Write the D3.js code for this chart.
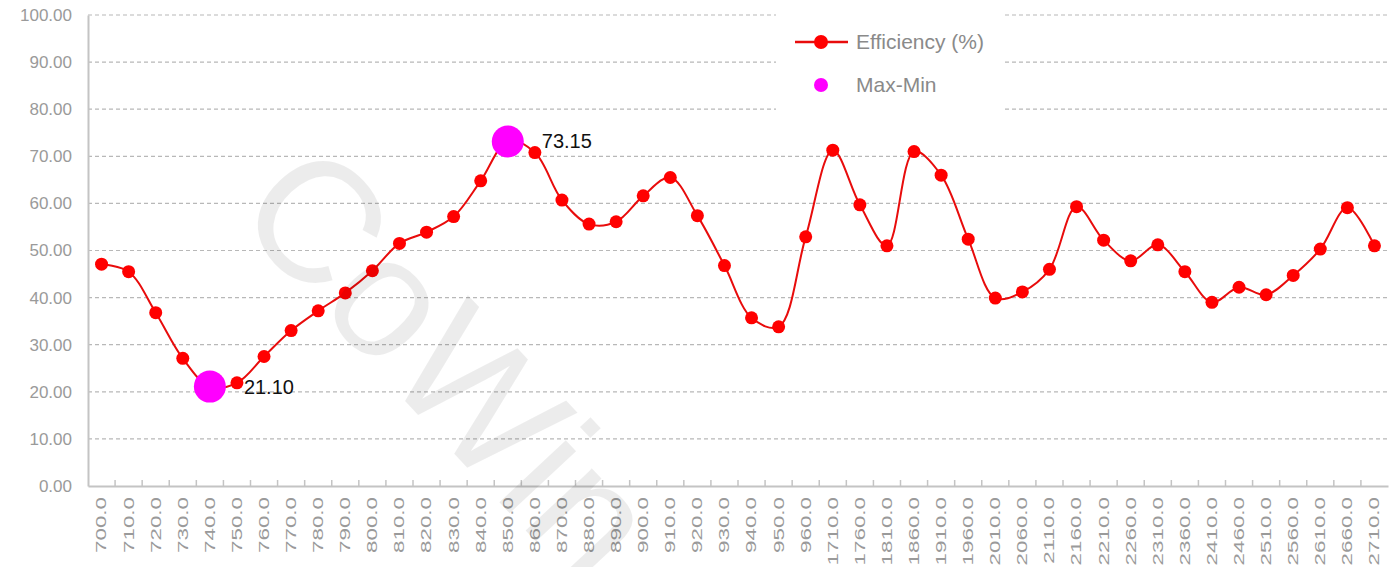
<!DOCTYPE html>
<html>
<head>
<meta charset="utf-8">
<script src="https://cdn.jsdelivr.net/npm/d3@7"></script>
<style>
  body { margin: 0; background: #fff; }
  svg { display: block; font-family: "Liberation Sans", Arial, sans-serif; }
</style>
</head>
<body>
<svg></svg>
<script>
const wavelengths = ['700.0','710.0','720.0','730.0','740.0','750.0','760.0','770.0','780.0','790.0',
  '800.0','810.0','820.0','830.0','840.0','850.0','860.0','870.0','880.0','890.0',
  '900.0','910.0','920.0','930.0','940.0','950.0','960.0',
  '1710.0','1760.0','1810.0','1860.0','1910.0','1960.0','2010.0','2060.0','2110.0','2160.0',
  '2210.0','2260.0','2310.0','2360.0','2410.0','2460.0','2510.0','2560.0','2610.0','2660.0','2710.0'];

const efficiency = [47.1, 45.5, 36.8, 27.1, 21.1, 21.9, 27.5, 33.0, 37.2, 41.0,
  45.7, 51.5, 53.9, 57.2, 64.8, 73.15, 70.8, 60.7, 55.6, 56.1,
  61.6, 65.5, 57.4, 46.8, 35.7, 33.8, 52.9,
  71.3, 59.7, 51.0, 71.0, 66.0, 52.4, 39.9, 41.2, 46.0, 59.3,
  52.2, 47.8, 51.2, 45.5, 39.0, 42.2, 40.6, 44.7, 50.3, 59.1, 51.0];

const extremes = [
  { cat: '740.0', value: 21.10, label: '21.10' },
  { cat: '850.0', value: 73.15, label: '73.15' }
];

const yTicks = [0, 10, 20, 30, 40, 50, 60, 70, 80, 90, 100];

const width = 1399;
const height = 567;
const margin = { top: 15, right: 11, bottom: 81, left: 88 };
const innerW = width - margin.left - margin.right;
const innerH = height - margin.top - margin.bottom;

const svg = d3.select('svg')
  .attr('width', width)
  .attr('height', height);

const x = d3.scaleBand()
  .domain(wavelengths)
  .range([0, innerW]);

const y = d3.scaleLinear()
  .domain([0, 100])
  .range([innerH, 0]);

const g = svg.append('g')
  .attr('transform', `translate(${margin.left},${margin.top})`);

// watermark
svg.append('text')
  .attr('transform', 'translate(440,372) rotate(47)')
  .attr('text-anchor', 'middle')
  .attr('dominant-baseline', 'middle')
  .attr('font-size', 172)
  .attr('fill', '#000')
  .attr('fill-opacity', 0.075)
  .text('CoWin');

// grid lines
g.append('g')
  .selectAll('line')
  .data(yTicks.filter(d => d > 0))
  .enter().append('line')
  .attr('x1', 0)
  .attr('x2', innerW)
  .attr('y1', d => y(d))
  .attr('y2', d => y(d))
  .attr('stroke', '#b8b8b8')
  .attr('stroke-width', 1.2)
  .attr('stroke-dasharray', '4,3');

// y axis
const yAxis = g.append('g')
  .call(d3.axisLeft(y).tickValues(yTicks).tickFormat(d3.format('.2f')).tickSize(0).tickPadding(16));
yAxis.select('.domain').attr('stroke', '#c4c4c4').attr('stroke-width', 2);
yAxis.selectAll('text').attr('font-size', 17).attr('fill', '#9a9a9a');

// x axis
const xAxis = g.append('g')
  .attr('transform', `translate(0,${innerH})`)
  .call(d3.axisBottom(x).tickSize(0).tickPadding(0));
xAxis.select('.domain').attr('stroke', '#c4c4c4').attr('stroke-width', 2);
xAxis.selectAll('.tick text')
  .attr('font-size', 14)
  .attr('fill', '#9a9a9a')
  .attr('text-anchor', 'end')
  .attr('dy', '0.35em')
  .attr('transform', 'translate(0,11) rotate(-90) scale(1.6,1)');

// inner tick marks at band boundaries
g.append('g')
  .selectAll('line')
  .data(wavelengths.slice(1))
  .enter().append('line')
  .attr('x1', d => x(d))
  .attr('x2', d => x(d))
  .attr('y1', innerH)
  .attr('y2', innerH - 6)
  .attr('stroke', '#c4c4c4')
  .attr('stroke-width', 1.5);

// legend box (blanks the grid behind it)
const legend = svg.append('g');
legend.append('rect')
  .attr('x', 776)
  .attr('y', 10)
  .attr('width', 229)
  .attr('height', 101)
  .attr('fill', '#fff');

const points = wavelengths.map((c, i) => ({ cat: c, value: efficiency[i] }));
const cx = d => x(d.cat) + x.bandwidth() / 2;

const line = d3.line()
  .x(cx)
  .y(d => y(d.value))
  .curve(d3.curveCatmullRom.alpha(0.5));

g.append('path')
  .datum(points)
  .attr('d', line)
  .attr('fill', 'none')
  .attr('stroke', '#e80c0c')
  .attr('stroke-width', 2);

g.append('g')
  .selectAll('circle')
  .data(points)
  .enter().append('circle')
  .attr('cx', cx)
  .attr('cy', d => y(d.value))
  .attr('r', 6.5)
  .attr('fill', '#ff0000');

g.append('g')
  .selectAll('circle')
  .data(extremes)
  .enter().append('circle')
  .attr('cx', cx)
  .attr('cy', d => y(d.value))
  .attr('r', 16)
  .attr('fill', '#ff00ff');

g.append('g')
  .selectAll('text')
  .data(extremes)
  .enter().append('text')
  .attr('x', d => cx(d) + 34)
  .attr('y', d => y(d.value))
  .attr('dy', '0.35em')
  .attr('font-size', 20)
  .attr('fill', '#111')
  .text(d => d.label);

// legend items
legend.append('line')
  .attr('x1', 795).attr('x2', 848)
  .attr('y1', 42).attr('y2', 42)
  .attr('stroke', '#e80c0c')
  .attr('stroke-width', 2.5);
legend.append('circle')
  .attr('cx', 821).attr('cy', 42).attr('r', 7)
  .attr('fill', '#ff0000');
legend.append('text')
  .attr('x', 856).attr('y', 42).attr('dy', '0.35em')
  .attr('font-size', 21).attr('fill', '#8a8a8a')
  .text('Efficiency (%)');
legend.append('circle')
  .attr('cx', 821).attr('cy', 85).attr('r', 7)
  .attr('fill', '#ff00ff');
legend.append('text')
  .attr('x', 856).attr('y', 85).attr('dy', '0.35em')
  .attr('font-size', 21).attr('fill', '#8a8a8a')
  .text('Max-Min');
</script>
</body>
</html>
